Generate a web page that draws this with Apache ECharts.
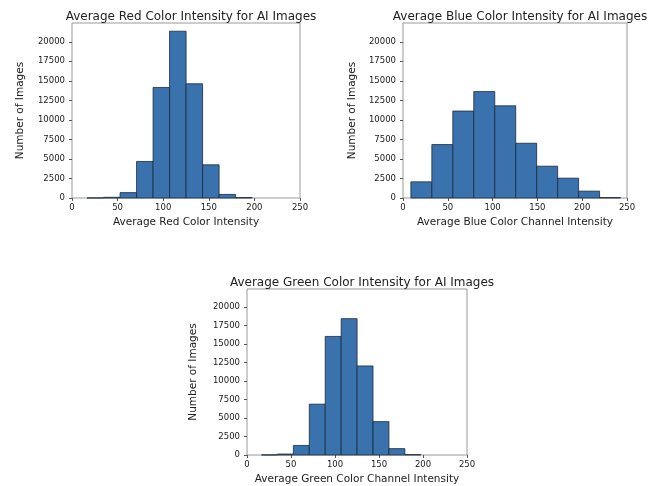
<!DOCTYPE html>
<html><head><meta charset="utf-8">
<script src="https://cdn.jsdelivr.net/npm/echarts@6/dist/echarts.min.js"></script>
<style>html,body{margin:0;padding:0;background:#fff}#c{width:648px;height:486px}</style>
</head><body><div id="c"></div>
<script>
// Bin edges (intensity) and counts per histogram
const redEdges = [16.5, 34.6, 52.7, 70.8, 88.9, 107.0, 125.1, 143.2, 161.3, 179.4, 197.5];
const redCounts = [10, 90, 690, 4680, 14150, 21350, 14620, 4250, 460, 60];
const blueEdges = [8.8, 32.2, 55.6, 79.0, 102.4, 125.8, 149.2, 172.6, 196.0, 219.4, 242.8];
const blueCounts = [2070, 6840, 11130, 13620, 11800, 7010, 4070, 2540, 880, 60];
const greenEdges = [16.5, 34.6, 52.7, 70.8, 88.9, 107.0, 125.1, 143.2, 161.3, 179.4, 197.5];
const greenCounts = [10, 130, 1290, 6860, 16000, 18400, 12020, 4500, 860, 50];
const yTicks = [0, 2500, 5000, 7500, 10000, 12500, 15000, 17500, 20000];
const xTicks = [0, 50, 100, 150, 200, 250];
const titles = ['Average Red Color Intensity for AI Images', 'Average Blue Color Intensity for AI Images', 'Average Green Color Intensity for AI Images'];
const xNames = ['Average Red Color Intensity', 'Average Blue Color Channel Intensity', 'Average Green Color Channel Intensity'];
const yName = 'Number of Images';

const FONT = 'DejaVu Sans';
const TXT = '#222';
const BAR = '#3a72ae';
const grids = [
  {left: 72, top: 23, width: 228, height: 175},
  {left: 403, top: 23, width: 224, height: 175},
  {left: 247, top: 289, width: 220, height: 170}
];
const yGaps = [46, 45, 48];
const hists = [[redEdges, redCounts], [blueEdges, blueCounts], [greenEdges, greenCounts]];

const option = {
  backgroundColor: '#fff',
  animation: false,
  title: grids.map((g, i) => ({
    text: titles[i], left: g.left + g.width / 2, top: g.top - 17, textAlign: 'center',
    textStyle: {fontFamily: FONT, fontSize: 12, fontWeight: 'normal', color: TXT}
  })),
  grid: grids.map(g => Object.assign({show: true, borderColor: '#999', borderWidth: 1, backgroundColor: 'transparent'}, g)),
  xAxis: grids.map((g, i) => ({
    type: 'value', gridIndex: i, min: 0, max: 250, interval: 50,
    name: xNames[i], nameLocation: 'middle', nameGap: 19,
    nameTextStyle: {fontFamily: FONT, fontSize: 10.5, color: TXT},
    axisLine: {show: false}, splitLine: {show: false},
    axisTick: {show: true, length: 3, lineStyle: {color: '#555'}, customValues: xTicks},
    axisLabel: {fontFamily: FONT, fontSize: 8.5, color: '#1a1a1a', margin: 5, customValues: xTicks, formatter: v => String(v)}
  })),
  yAxis: grids.map((g, i) => ({
    type: 'value', gridIndex: i, min: 0, max: 22400, interval: 2500,
    name: yName, nameLocation: 'middle', nameGap: yGaps[i],
    nameTextStyle: {fontFamily: FONT, fontSize: 10.5, color: TXT},
    axisLine: {show: false}, splitLine: {show: false},
    axisTick: {show: true, length: 3, lineStyle: {color: '#555'}, customValues: yTicks},
    axisLabel: {fontFamily: FONT, fontSize: 8.5, color: '#1a1a1a', margin: 7, customValues: yTicks, formatter: v => String(v)}
  })),
  series: hists.map((h, i) => ({
    type: 'custom', xAxisIndex: i, yAxisIndex: i,
    data: h[1].map((c, k) => [h[0][k], h[0][k + 1], c]),
    encode: {x: [0, 1], y: 2},
    renderItem: function (params, api) {
      const p0 = api.coord([api.value(0), api.value(2)]);
      const p1 = api.coord([api.value(1), 0]);
      return {
        type: 'rect',
        shape: {x: p0[0], y: p0[1], width: p1[0] - p0[0], height: p1[1] - p0[1]},
        style: {fill: BAR, stroke: '#1c2a3a', lineWidth: 0.8}
      };
    }
  }))
};
echarts.init(document.getElementById('c')).setOption(option);
</script></body></html>
